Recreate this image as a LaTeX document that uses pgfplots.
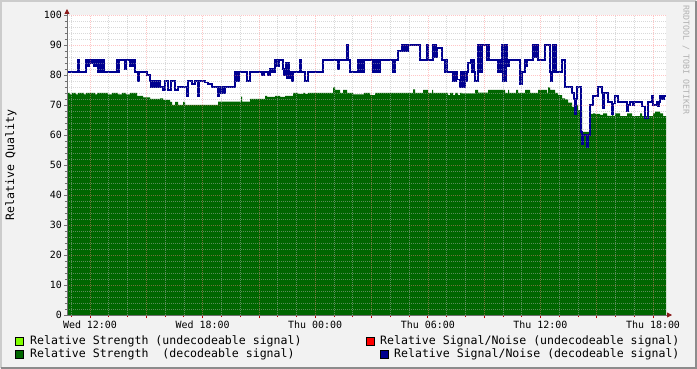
\documentclass[border=0pt]{standalone}
\usepackage{fontspec}
\setmainfont{DejaVu Sans Mono}
\usepackage{pgfplots}
\pgfplotsset{compat=1.18}
\usetikzlibrary{arrows.meta}
\definecolor{bgc}{HTML}{F2F2F2}
\definecolor{sgreen}{HTML}{006600}
\definecolor{sblue}{HTML}{000090}
\definecolor{lgreen}{HTML}{80FF00}
\definecolor{arrowred}{HTML}{8B1A1A}
\definecolor{axgray}{HTML}{707070}
\definecolor{mgrid}{HTML}{FF8080}
\definecolor{ngrid}{HTML}{B4B4B4}

% x = sample column (one column ~ 3.2 min); Wed 12:00 = 90, Thu 18:00 = 653
\pgfplotstableread{
x v
67 74
70 73.5
72 74
76 73.5
78 74
84 73.5
86 74
95 73.5
97 74
108 73.5
112 74
118 73.5
122 74
126 73.5
130 74
137 73
143 72.5
150 72
160 72.2
163 71.7
170 71
172 70
175 71
178 70
183 71
185 70
218 71.1
241 72.8
242 71.1
250 72
265 73
267 72.7
275 73
280 72.7
285 73
293 74
298 73.7
303 74
305 73.7
308 74
333 75.9
335 75
340 74
343 75
347 74
353 73.5
364 74
370 73.3
375 74
413 75.2
415 74
423 75
428 74
432 75
433 74
448 73.3
450 74
453 73.3
455 74
458 73.3
460 74
462 73.9
475 75
478 74.1
488 75
505 74
508 75
509 74
516 75
518 74
525 75
530 74
538 75
547 74
548 75.9
550 75
555 74
558 73.3
562 72.2
565 71.9
568 70.8
572 69.4
575 67.8
577 70
578 68.3
582 61
589 67
593 67.2
595 67
600 66.7
603 67.2
607 66.4
612 67.2
613 66.4
615 67.2
620 66.3
627 67.2
632 66.3
640 67.2
642 66.3
653 67.2
655 67.8
660 67.2
663 66.3
666 66.3
}\strength

\pgfplotstableread{
x v
67 81
78 85
79 81
86 85
88 83
89 85
91 84
93 85
94 83
95 85
96 83
97 85
98 81
99 85
100 81
101 85
102 81
103 85
104 81
117 85
118 81
119 85
125 82
126 85
130 83
131 85
132 83
133 85
135 81
138 78
139 81
147 80
150 78
151 76
152 78
153 76
155 78
157 76
159 78
160 76
163 75
165 78
168 75
171 78
175 75
178 76
187 73
188 78
192 77
195 78
198 73
199 78
205 77.5
208 77
212 76
218 73
219 76
220 74
221 76
222 74
223 76
224 74
225 76
235 81
236 78
237 81
238 78
239 81
247 78
250 81
262 80
264 81
268 80
270 82
271 81
272 82
273 81
275 85
276 83
277 85
278 83
279 85
283 82
284 80
286 84
287 79
288 84
289 79
290 81
292 78
293 81
300 85
301 81
305 78
308 81
323 85
338 82
339 85
347 90
348 85
350 81
358 85
359 81
360 85
361 81
362 85
363 81
364 85
373 81
374 85
375 81
376 85
377 81
378 85
379 81
380 85
393 81
395 85
398 88
402 90
403 88
404 90
405 88
406 90
407 88
408 90
420 85
427 90
428 85
433 90
434 86
435 90
436 86
437 89
442 85
445 81
446 85
447 81
453 78
454 81
455 78
456 81
457 78.5
460 76
461 81
462 76
463 81
464 76
465 81
466 78
467 81
468 84
471 85
472 81
473 85
474 81
475 78
478 90
479 81
480 90
481 81
482 90
487 85
488 90
489 85
498 81
499 85
500 81
501 85
502 90
503 78
504 90
505 78
506 90
507 85
508 83
509 85
520 77
522 81
525 85
526 83
527 85
533 90
534 86
535 90
536 86
537 90
538 85
545 90
550 81
551 78
552 81
553 90
554 81
555 90
556 81
562 85
565 76
572 74
574 72
575 67
576 72
577 76
581 61
582 57
583 60
587 56
588 60
590 70
593 73
598 76
602 74
603 69
604 74
608 71
612 67
613 70.5
615 73
618 71
627 68
628 70
630 71
633 70
634 71
642 69.5
645 65.5
648 71
652 73
653 70
657 71
658 69.5
659 71
660 73
661 72
662 73
663 72
664 73
666 73
}\snr

\begin{document}
\begin{tikzpicture}
\fill[bgc] (-67bp,-54bp) rectangle (630bp,315bp);
\begin{axis}[
  at={(0,0)}, anchor=south west,
  scale only axis, width=599bp, height=300bp,
  xmin=67, xmax=666, ymin=0, ymax=100,
  axis background/.style={fill=white},
  axis on top,
  axis x line*=bottom, axis y line*=left,
  x axis line style={draw=axgray, line width=0.8bp, -{Triangle[length=5bp,width=5bp,color=arrowred]}, shorten >=-6bp},
  y axis line style={draw=axgray, line width=0.8bp, -{Triangle[length=5bp,width=5bp,color=arrowred]}, shorten >=-6bp},
  xtick={90,146.3,202.6,258.9,315.2,371.5,427.8,484.1,540.4,596.7,653},
  xticklabels={Wed 12:00,,Wed 18:00,,Thu 00:00,,Thu 06:00,,Thu 12:00,,Thu 18:00},
  minor xtick={71.23,108.77,127.53,165.07,183.83,221.37,240.13,277.67,296.43,333.97,352.73,390.27,409.03,446.57,465.33,502.87,521.63,559.17,577.93,615.47,634.23},
  ytick={0,10,...,100},
  minor y tick num=4,
  grid=both,
  major grid style={draw=mgrid, dash pattern=on 1bp off 1bp, line width=0.6bp, opacity=0.45},
  minor grid style={draw=ngrid, dash pattern=on 1bp off 1bp, line width=0.6bp, opacity=0.5},
  tick align=outside,
  major tick length=3bp, minor tick length=2bp,
  xtick style={draw=red!70!black, line width=0.7bp},
  ytick style={draw=axgray, line width=0.7bp},
  /pgf/number format/assume math mode=true,
  tick label style={font=\fontsize{10}{12}\selectfont},
  xticklabel style={inner sep=1bp, yshift=-2bp},
  yticklabel style={inner sep=1bp, xshift=-1bp},
]
\addplot[const plot, fill=sgreen, draw=none] table[x=x,y=v] {\strength} \closedcycle;
\addplot[const plot, draw=sblue, line width=1.5bp, line join=miter] table[x=x,y=v] {\snr};
\end{axis}
% frame
\draw[line width=2bp, draw=black!20] (-66bp,-53bp) -- (-66bp,314bp) -- (629bp,314bp);
\draw[line width=2bp, draw=black!45] (629bp,314bp) -- (629bp,-53bp) -- (-66bp,-53bp);
% y label
\node[rotate=90, font=\fontsize{11.6}{14}\selectfont] at (-56bp,150bp) {Relative Quality};
% watermark
\node[rotate=-90, anchor=west, inner sep=0pt, text=black!30, font=\fontsize{8.3}{10}\selectfont] at (619bp,310bp) {RRDTOOL / TOBI OETIKER};
% legend
\begin{scope}[font=\fontsize{11.6}{14}\selectfont]
\filldraw[fill=lgreen, draw=black, line width=0.8bp] (-52bp,-30bp) rectangle (-44bp,-22bp);
\node[anchor=west, inner sep=0pt] at (-37bp,-26bp) {Relative Strength (undecodeable signal)};
\filldraw[fill=sgreen, draw=black, line width=0.8bp] (-52bp,-43bp) rectangle (-44bp,-35bp);
\node[anchor=west, inner sep=0pt] at (-37bp,-39bp) {Relative Strength\ \ (decodeable signal)};
\filldraw[fill=red, draw=black, line width=0.8bp] (299bp,-30bp) rectangle (307bp,-22bp);
\node[anchor=west, inner sep=0pt] at (313bp,-26bp) {Relative Signal/Noise (undecodeable signal)};
\filldraw[fill=sblue, draw=black, line width=0.8bp] (313bp,-43bp) rectangle (321bp,-35bp);
\node[anchor=west, inner sep=0pt] at (327bp,-39bp) {Relative Signal/Noise (decodeable signal)};
\end{scope}
\pgfresetboundingbox
\path (-67bp,-54bp) rectangle (630bp,315bp);
\end{tikzpicture}
\end{document}
